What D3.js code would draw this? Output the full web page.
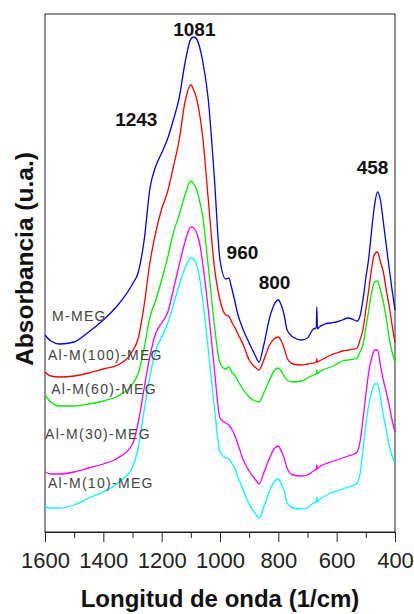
<!DOCTYPE html>
<html>
<head>
<meta charset="utf-8">
<script src="https://cdn.jsdelivr.net/npm/d3@7"></script>
<style>
  html, body { margin: 0; padding: 0; background: #fff; }
  svg { display: block; font-family: "Liberation Sans", Arial, sans-serif; }
</style>
</head>
<body>
<svg id="chart" width="414" height="614"></svg>
<script>
// ---- data ----
const wavenumbers = [1600,1580,1550,1500,1450,1400,1350,1300,1280,1260,1240,1220,1200,1180,1160,1140,1120,1100,1090,1080,1070,1060,1040,1020,1000,980,970,960,950,940,920,900,880,866,850,830,815,800,790,780,770,750,720,700,680,670,668,666,660,640,620,600,580,560,540,530,520,510,500,490,480,470,460,450,440,430,420,410,400];

const absMMEG = [1.97,1.91,1.88,1.90,2.00,2.12,2.27,2.48,2.60,2.92,3.44,3.66,3.79,3.93,4.12,4.34,4.69,4.93,4.95,4.93,4.85,4.72,4.32,3.57,2.72,2.53,2.54,2.44,2.32,2.19,2.02,1.89,1.77,1.70,1.87,2.14,2.27,2.32,2.27,2.17,2.02,1.95,1.92,1.94,2.03,2.04,2.25,2.03,2.05,2.08,2.09,2.10,2.12,2.14,2.12,2.11,2.16,2.32,2.54,2.74,3.02,3.27,3.40,3.32,3.10,2.87,2.64,2.42,2.22];
const absAl100 = [1.60,1.56,1.55,1.56,1.59,1.63,1.67,1.81,1.94,2.27,2.70,3.00,3.23,3.40,3.65,3.92,4.30,4.47,4.42,4.33,4.18,3.97,3.32,2.67,2.32,2.17,2.16,2.10,2.05,1.99,1.87,1.72,1.65,1.62,1.72,1.87,1.93,1.95,1.91,1.84,1.74,1.68,1.67,1.68,1.69,1.70,1.73,1.70,1.71,1.74,1.77,1.79,1.81,1.82,1.83,1.84,1.92,2.02,2.22,2.42,2.64,2.78,2.80,2.70,2.60,2.42,2.26,2.07,1.89];
const absAl60 = [1.37,1.30,1.26,1.26,1.28,1.31,1.36,1.48,1.59,1.84,2.15,2.32,2.52,2.74,2.99,3.17,3.37,3.51,3.48,3.42,3.31,3.17,2.65,2.09,1.69,1.63,1.65,1.60,1.57,1.52,1.42,1.35,1.31,1.30,1.39,1.52,1.61,1.64,1.61,1.56,1.52,1.50,1.51,1.54,1.57,1.58,1.62,1.58,1.60,1.63,1.65,1.68,1.71,1.72,1.73,1.74,1.80,1.87,2.04,2.22,2.40,2.50,2.51,2.42,2.30,2.14,1.94,1.80,1.70];
const absAl30 = [0.60,0.58,0.58,0.60,0.64,0.68,0.74,0.88,1.10,1.44,1.76,1.99,2.09,2.19,2.42,2.67,2.90,3.05,3.04,2.99,2.89,2.70,2.22,1.65,1.14,1.09,1.07,1.03,0.97,0.89,0.72,0.61,0.53,0.48,0.59,0.74,0.83,0.86,0.81,0.74,0.64,0.57,0.56,0.57,0.61,0.63,0.67,0.63,0.65,0.68,0.70,0.72,0.74,0.76,0.78,0.80,0.90,1.12,1.37,1.60,1.74,1.82,1.82,1.67,1.52,1.40,1.27,1.12,1.00];
const absAl10 = [0.25,0.24,0.24,0.27,0.34,0.40,0.49,0.65,0.85,1.22,1.56,1.82,1.95,2.08,2.27,2.47,2.64,2.74,2.73,2.67,2.54,2.34,1.82,1.27,0.80,0.74,0.73,0.69,0.64,0.56,0.42,0.28,0.19,0.14,0.25,0.41,0.50,0.53,0.48,0.41,0.29,0.24,0.23,0.24,0.29,0.30,0.35,0.30,0.32,0.36,0.39,0.41,0.43,0.45,0.47,0.49,0.58,0.82,1.07,1.27,1.40,1.48,1.48,1.35,1.17,1.02,0.87,0.76,0.69];

const seriesNames = ["M-MEG","Al-M(100)-MEG","Al-M(60)-MEG","Al-M(30)-MEG","Al-M(10)-MEG"];
const seriesValues = [absMMEG, absAl100, absAl60, absAl30, absAl10];

const xTicksMajor = [1600,1400,1200,1000,800,600,400];
const xTicksMinor = [1500,1300,1100,900,700,500];

const peakLabels = ["1081","1243","960","800","458"];
const peakLabelWave = [1088,1287,923,813,477];
const peakLabelAbs = [5.03,4.13,2.80,2.50,3.65];

const nameLabelWave = [1576,1590,1579,1600,1590];
const nameLabelAbs = [2.16,1.77,1.43,0.98,0.49];

// ---- layout / style ----
const colors = ["#0000ff","#ff0000","#00ee00","#ff00ff","#00ffff"];
const L = 45, R = 395, T = 14, B = 532;

const svg = d3.select("#chart");
const x = d3.scaleLinear().domain([1600, 400]).range([L, R]);
const y = d3.scaleLinear().domain([0, 5.18]).range([B, T]);

// frame
svg.append("rect").attr("x", L).attr("y", T).attr("width", R - L).attr("height", B - T)
  .attr("fill", "none").attr("stroke", "#222").attr("stroke-width", 1);

// curves
const line = d3.line().x((d, i) => x(wavenumbers[i])).y(d => y(d)).curve(d3.curveMonotoneX);
seriesValues.forEach((vals, k) => {
  svg.append("path").datum(vals).attr("d", line)
    .attr("fill", "none").attr("stroke", colors[k]).attr("stroke-width", 1.3)
    .attr("stroke-linejoin", "round");
});

// x axis
const axMajor = d3.axisBottom(x).tickValues(xTicksMajor).tickSize(10).tickPadding(10)
  .tickSizeOuter(0).tickFormat(d3.format("d"));
const gx = svg.append("g").attr("transform", `translate(0,${B})`).call(axMajor);
gx.select(".domain").attr("stroke", "#222");
gx.selectAll(".tick line").attr("stroke", "#222");
gx.selectAll(".tick text").attr("font-size", 22).attr("fill", "#222")
  .attr("font-family", "Liberation Sans, Arial, sans-serif");
const axMinor = d3.axisBottom(x).tickValues(xTicksMinor).tickSize(6).tickFormat("").tickSizeOuter(0);
const gm = svg.append("g").attr("transform", `translate(0,${B})`).call(axMinor);
gm.select(".domain").remove();
gm.selectAll(".tick line").attr("stroke", "#222");

// axis titles
svg.append("text").attr("x", 220).attr("y", 607).attr("text-anchor", "middle")
  .attr("font-size", 24).attr("font-weight", "bold").attr("fill", "#111")
  .text("Longitud de onda (1/cm)");
svg.append("text").attr("transform", `translate(33,259) rotate(-90)`).attr("text-anchor", "middle")
  .attr("font-size", 24.5).attr("font-weight", "bold").attr("fill", "#111")
  .text("Absorbancia (u.a.)");

// peak labels
peakLabels.forEach((t, i) => {
  svg.append("text").attr("x", x(peakLabelWave[i])).attr("y", y(peakLabelAbs[i]))
    .attr("dy", "0.35em").attr("text-anchor", "middle")
    .attr("font-size", 19).attr("font-weight", "bold").attr("fill", "#111").text(t);
});

// series labels
seriesNames.forEach((t, i) => {
  svg.append("text").attr("x", x(nameLabelWave[i])).attr("y", y(nameLabelAbs[i]))
    .attr("dy", "0.35em").attr("font-size", 14).attr("letter-spacing", 1.3)
    .attr("fill", "#444").text(t);
});
</script>
</body>
</html>
